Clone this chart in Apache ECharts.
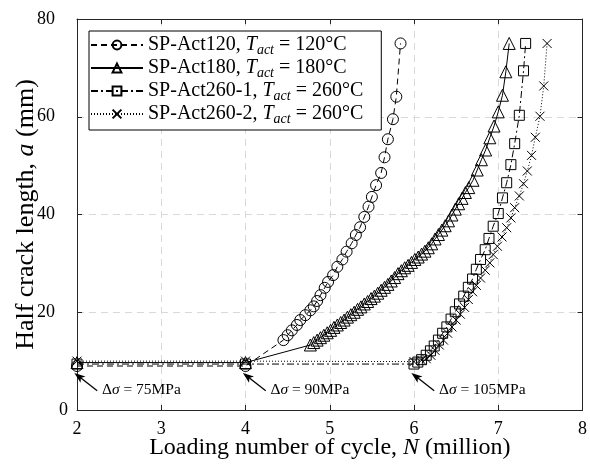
<!DOCTYPE html>
<html>
<head>
<meta charset="utf-8">
<script src="https://cdn.jsdelivr.net/npm/echarts@6/dist/echarts.min.js"></script>
<style>html,body{margin:0;padding:0;background:#fff}#c{width:590px;height:470px}</style>
</head>
<body>
<div id="c"></div>
<script>
const FONT = 'Liberation Serif';
const xTicks = [2, 3, 4, 5, 6, 7, 8];
const yTicks = [0, 20, 40, 60, 80];
const seriesNames = ['SP-Act120', 'SP-Act180', 'SP-Act260-1', 'SP-Act260-2'];
const seriesTemps = ['120', '180', '260', '260'];

const act120N = [2, 4, 4.45, 4.50, 4.55, 4.61, 4.65, 4.71, 4.77, 4.81, 4.85, 4.89, 4.94, 4.98, 5.04, 5.09, 5.15, 5.20, 5.26, 5.31, 5.36, 5.41, 5.46, 5.50, 5.55, 5.61, 5.65, 5.69, 5.75, 5.79, 5.84];
const act120A = [9.0, 9.0, 14.3, 15.3, 16.3, 17.4, 18.4, 19.4, 20.4, 21.2, 22.3, 23.5, 25.0, 26.2, 27.6, 29.3, 30.8, 32.4, 34.1, 35.8, 37.4, 39.5, 41.6, 43.6, 46.0, 48.5, 51.7, 55.4, 59.5, 64.1, 75.0];

const act180N = [2, 4, 4.77, 4.81, 4.85, 4.89, 4.93, 4.97, 5.01, 5.05, 5.09, 5.13, 5.17, 5.21, 5.25, 5.29, 5.33, 5.37, 5.41, 5.45, 5.49, 5.53, 5.57, 5.61, 5.65, 5.69, 5.73, 5.77, 5.81, 5.85, 5.89, 5.93, 5.97, 6.01, 6.05, 6.09, 6.13, 6.17, 6.21, 6.25, 6.29, 6.33, 6.37, 6.41, 6.45, 6.49, 6.53, 6.57, 6.61, 6.65, 6.70, 6.75, 6.80, 6.85, 6.90, 6.95, 7.00, 7.05, 7.09, 7.13];
const act180A = [9.7, 9.7, 13.3, 13.8, 14.3, 14.8, 15.3, 15.8, 16.3, 16.9, 17.4, 17.9, 18.4, 19.0, 19.5, 20.0, 20.6, 21.1, 21.7, 22.2, 22.8, 23.3, 23.9, 24.5, 25.1, 25.7, 26.4, 27.1, 27.9, 28.5, 29.1, 29.6, 30.2, 30.8, 31.3, 31.9, 32.5, 33.2, 34.0, 35.0, 35.9, 36.8, 37.7, 38.7, 39.9, 41.1, 42.2, 43.3, 44.5, 45.5, 47.0, 49.1, 51.2, 53.2, 55.7, 58.1, 61.0, 64.4, 69.2, 75.0];

const act260aN = [2, 4, 6, 6.045, 6.09, 6.145, 6.195, 6.24, 6.29, 6.34, 6.39, 6.44, 6.49, 6.54, 6.59, 6.645, 6.695, 6.74, 6.79, 6.845, 6.89, 6.94, 7.00, 7.05, 7.10, 7.15, 7.195, 7.25, 7.30, 7.325];
const act260aA = [9.4, 9.4, 9.4, 9.8, 10.3, 11.2, 12.1, 13.1, 14.3, 15.7, 17.0, 18.6, 20.1, 21.7, 23.3, 25.1, 26.8, 28.8, 30.8, 32.8, 35.1, 37.6, 40.2, 43.4, 46.5, 50.2, 54.5, 60.3, 69.4, 75.0];

const act260bN = [2, 4, 6, 6.09, 6.145, 6.20, 6.25, 6.30, 6.35, 6.40, 6.45, 6.50, 6.55, 6.60, 6.645, 6.695, 6.74, 6.79, 6.845, 6.90, 6.94, 6.99, 7.045, 7.10, 7.15, 7.195, 7.25, 7.30, 7.345, 7.395, 7.44, 7.495, 7.54, 7.58];
const act260bA = [10.0, 10.0, 9.9, 10.2, 10.5, 11.2, 12.2, 13.3, 14.3, 15.7, 17.0, 18.4, 19.6, 21.0, 22.6, 24.2, 25.5, 27.0, 28.6, 30.1, 31.8, 33.5, 35.4, 37.3, 39.3, 41.4, 43.8, 46.3, 48.9, 52.1, 55.8, 60.1, 66.3, 75.0];

const stressLevels = ['75', '90', '105'];
const stressN = [2, 4, 6];

function pairs(xs, ys) { return xs.map((x, i) => [x, ys[i]]); }

const chart = echarts.init(document.getElementById('c'), null, {renderer: 'canvas'});

const baseItem = {color: 'rgba(0,0,0,0)', borderColor: '#000', borderWidth: 1};
function mkSeries(name, data, symbol, size, lineType, lineWidth) {
  return {
    name: name, type: 'line', data: data, symbol: symbol, symbolSize: size,
    showAllSymbol: true, clip: false, z: 3,
    itemStyle: baseItem,
    lineStyle: {color: '#000', width: lineWidth, type: lineType},
    emphasis: {disabled: true}
  };
}

const arrowData = stressN.map(n => [
  {coord: [n + 0.24, 3.95], symbol: 'none'},
  {coord: [n + 0.02, 6.9], symbol: 'path://M5,0L10,12L5,9L0,12Z', symbolSize: [8, 11]}
]);
const textData = stressN.map((n, i) => ({
  coord: [n + 0.29, 4.15],
  label: {formatter: '{d|Δ}{s|σ}{d| = ' + stressLevels[i] + 'MPa}'}
}));

const axisCommon = {
  type: 'value',
  axisLine: {show: true, onZero: false, lineStyle: {color: '#262626', width: 1}},
  axisTick: {show: true, inside: true, length: 5, lineStyle: {color: '#262626', width: 1}}
};

const option = {
  animation: false,
  grid: {left: 77, right: 5, top: 19, bottom: 60},
  xAxis: [
    Object.assign({}, axisCommon, {
      min: 2, max: 8, interval: 1, position: 'bottom',
      axisLabel: {fontFamily: FONT, fontSize: 18, color: '#000', margin: 10},
      splitLine: {show: true, lineStyle: {color: '#d9d9d9', type: [7, 5], width: 1}},
      name: 'Loading number of cycle, {i|N} (million)',
      nameLocation: 'middle', nameGap: 26, nameMoveOverlap: false,
      nameTextStyle: {fontFamily: FONT, fontSize: 24, color: '#000', verticalAlign: 'top',
        rich: {i: {fontFamily: FONT, fontSize: 24, fontStyle: 'italic', color: '#000'}}}
    }),
    Object.assign({}, axisCommon, {
      min: 2, max: 8, interval: 1, position: 'top',
      axisLabel: {show: false}, splitLine: {show: false}
    })
  ],
  yAxis: [
    Object.assign({}, axisCommon, {
      min: 0, max: 80, interval: 20, position: 'left',
      axisLabel: {fontFamily: FONT, fontSize: 18, color: '#000', margin: 9,
        formatter: v => v === 0 ? '{z|0}' : '{n|' + v + '}',
        rich: {z: {fontFamily: FONT, fontSize: 18, color: '#000'},
               n: {fontFamily: FONT, fontSize: 18, color: '#000', padding: [0, 13, 0, 0]}}},
      splitLine: {show: true, lineStyle: {color: '#d9d9d9', type: [7, 5], width: 1}},
      name: 'Half crack length, {i|a} (mm)',
      nameLocation: 'middle', nameGap: 38, nameMoveOverlap: false,
      nameTextStyle: {fontFamily: FONT, fontSize: 26, color: '#000',
        rich: {i: {fontFamily: FONT, fontSize: 26, fontStyle: 'italic', color: '#000'}}}
    }),
    Object.assign({}, axisCommon, {
      min: 0, max: 80, interval: 20, position: 'right',
      axisLabel: {show: false}, splitLine: {show: false}
    })
  ],
  legend: {
    left: 89, top: 31, orient: 'vertical',
    data: seriesNames,
    itemWidth: 52, itemHeight: 11, itemGap: 1,
    padding: [4, 18, 4, 1],
    borderColor: '#000', borderWidth: 1, backgroundColor: '#fff',
    selectedMode: false,
    formatter: name => {
      const i = seriesNames.indexOf(name);
      return '{t|' + name + ', }{i|T}{s|act}{t| = ' + seriesTemps[i] + '°C}';
    },
    textStyle: {
      fontFamily: FONT, fontSize: 20, color: '#000',
      rich: {
        t: {fontFamily: FONT, fontSize: 20, color: '#000', lineHeight: 24},
        i: {fontFamily: FONT, fontSize: 20, fontStyle: 'italic', color: '#000', lineHeight: 24},
        s: {fontFamily: FONT, fontSize: 14, fontStyle: 'italic', color: '#000', lineHeight: 14, verticalAlign: 'bottom'}
      }
    }
  },
  series: [
    mkSeries(seriesNames[0], pairs(act120N, act120A), 'circle', 11, [6, 4], 1),
    mkSeries(seriesNames[1], pairs(act180N, act180A), 'triangle', 12, 'solid', 1),
    mkSeries(seriesNames[2], pairs(act260aN, act260aA), 'rect', 10, [7, 3, 2, 3], 1),
    mkSeries(seriesNames[3], pairs(act260bN, act260bA), 'path://M0,0L10,10M10,0L0,10', 9, [1, 2], 1),
    {
      name: 'annot', type: 'scatter', data: [], silent: true, z: 5,
      markLine: {
        silent: true, symbol: ['none', 'arrow'], symbolSize: 10,
        lineStyle: {color: '#000', width: 1.3, type: 'solid'},
        itemStyle: {color: '#000'},
        label: {show: false}, emphasis: {disabled: true},
        data: arrowData
      },
      markPoint: {
        silent: true, symbol: 'rect', symbolSize: 1,
        itemStyle: {color: 'rgba(0,0,0,0)'},
        label: {show: true, position: 'right', distance: 0, color: '#000',
          rich: {
            d: {fontFamily: FONT, fontSize: 15.5, color: '#000'},
            s: {fontFamily: FONT, fontSize: 15.5, fontStyle: 'italic', color: '#000'}
          }},
        data: textData
      }
    }
  ]
};
chart.setOption(option);
</script>
</body>
</html>
